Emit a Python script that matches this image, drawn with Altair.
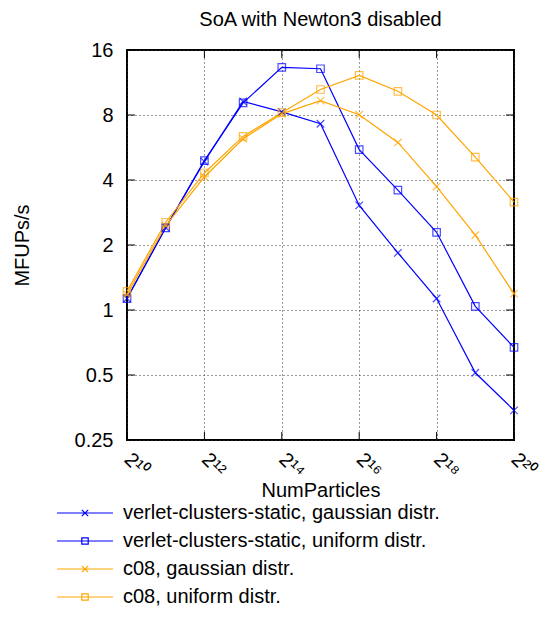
import altair as alt
import pandas as pd

FONT = "Liberation Sans"

# ---- data ----
exponents = [10, 11, 12, 13, 14, 15, 16, 17, 18, 19, 20]
series_names = [
    "verlet-clusters-static, gaussian distr.",
    "verlet-clusters-static, uniform distr.",
    "c08, gaussian distr.",
    "c08, uniform distr.",
]
verlet_gauss = [1.13, 2.41, 4.87, 9.24, 8.27, 7.29, 3.05, 1.84, 1.13, 0.512, 0.343]
verlet_unif = [1.13, 2.40, 4.92, 9.10, 13.3, 13.1, 5.53, 3.59, 2.29, 1.04, 0.671]
c08_gauss = [1.18, 2.46, 4.13, 6.21, 8.10, 9.33, 8.02, 5.97, 3.73, 2.22, 1.19]
c08_unif = [1.22, 2.55, 4.31, 6.37, 8.20, 10.5, 12.2, 10.3, 8.00, 5.11, 3.16]
series_values = [verlet_gauss, verlet_unif, c08_gauss, c08_unif]
series_colors = ["#0000ff", "#0000ff", "#ffa500", "#ffa500"]

x_tick_exps = [10, 12, 14, 16, 18, 20]
x_tick_labels = ["2¹⁰", "2¹²", "2¹⁴", "2¹⁶", "2¹⁸", "2²⁰"]
y_ticks = [0.25, 0.5, 1, 2, 4, 8, 16]

# ---- marker shapes ----
CROSS = "M-1,-1L1,1M-1,1L1,-1"
SQUARE = "M-1,-1H1V1H-1Z"
LEG_CROSS = "M-7,0H7M-0.8,-0.8L0.8,0.8M-0.8,0.8L0.8,-0.8"
LEG_SQUARE = "M-7,0H7M-0.8,-0.8H0.8V0.8H-0.8Z"
marker_paths = [CROSS, SQUARE, CROSS, SQUARE]
legend_paths = [LEG_CROSS, LEG_SQUARE, LEG_CROSS, LEG_SQUARE]

rows = []
for name, vals in zip(series_names, series_values):
    for e, v in zip(exponents, vals):
        rows.append({"series": name, "n": 2 ** e, "value": v})
df = pd.DataFrame(rows)

x_tick_vals = [2 ** e for e in x_tick_exps]
label_expr = "''"
for v, lab in reversed(list(zip(x_tick_vals, x_tick_labels))):
    label_expr = f"datum.value == {v} ? '{lab}' : ({label_expr})"

W, H = 387, 390

x_enc = alt.X(
    "n:Q",
    scale=alt.Scale(type="log", base=2, domain=[2 ** 10, 2 ** 20], nice=False),
    axis=alt.Axis(
        values=x_tick_vals, labelExpr=label_expr, labelAngle=45,
        labelAlign="left", labelBaseline="middle", labelPadding=16,
        labelFontSize=20, labelFont=FONT, labelColor="black",
        labelFlush=False, labelOverlap=False,
        ticks=False, domain=False,
        grid=True, gridColor="#333333", gridDash=[1, 3], gridWidth=1,
        title="NumParticles", titleFont=FONT, titleFontSize=20,
        titleFontWeight="normal", titleColor="black",
        titleY=50, titleBaseline="middle",
    ),
)
y_enc = alt.Y(
    "value:Q",
    scale=alt.Scale(type="log", base=2, domain=[0.25, 16], nice=False),
    axis=alt.Axis(
        values=y_ticks, format="~g", labelPadding=14,
        labelFontSize=20, labelFont=FONT, labelColor="black",
        labelFlush=False, labelOverlap=False,
        ticks=False, domain=False,
        grid=True, gridColor="#333333", gridDash=[1, 3], gridWidth=1,
        title="MFUPs/s", titleFont=FONT, titleFontSize=20,
        titleFontWeight="normal", titleColor="black",
        titleX=-105, titleBaseline="middle",
    ),
)

color_scale = alt.Scale(domain=series_names, range=series_colors)

lines = alt.Chart(df).mark_line(strokeWidth=1.2).encode(
    x=x_enc, y=y_enc,
    color=alt.Color("series:N", scale=color_scale, legend=None),
    detail="series:N",
)

points = alt.Chart(df).mark_point(filled=False, strokeWidth=1.2, size=56).encode(
    x=x_enc, y=y_enc,
    color=alt.Color("series:N", scale=color_scale, legend=None),
    shape=alt.Shape("series:N", scale=alt.Scale(domain=series_names, range=marker_paths), legend=None),
)

xt_df = pd.DataFrame({"n": x_tick_vals})
yt_df = pd.DataFrame({"value": y_ticks})
xt_bottom = alt.Chart(xt_df).mark_rule(color="black", strokeWidth=1).encode(
    x=x_enc, y=alt.value(H), y2=alt.value(H - 8))
xt_top = alt.Chart(xt_df).mark_rule(color="black", strokeWidth=1).encode(
    x=x_enc, y=alt.value(0), y2=alt.value(8))
yt_left = alt.Chart(yt_df).mark_rule(color="black", strokeWidth=1).encode(
    y=y_enc, x=alt.value(0), x2=alt.value(8))
yt_right = alt.Chart(yt_df).mark_rule(color="black", strokeWidth=1).encode(
    y=y_enc, x=alt.value(W), x2=alt.value(W - 8))

leg = alt.Legend(
    title=None, orient="none", legendX=-52, legendY=453,
    labelFont=FONT, labelFontSize=20, labelColor="black", labelLimit=600,
    labelOffset=28, symbolSize=64, symbolStrokeWidth=1.2, symbolOpacity=1,
    rowPadding=8, padding=0,
)
legend_layer = alt.Chart(df).mark_point(filled=False, opacity=0, size=64).encode(
    x=x_enc, y=y_enc,
    color=alt.Color("series:N", scale=alt.Scale(domain=series_names, range=series_colors), legend=leg),
    shape=alt.Shape("series:N", scale=alt.Scale(domain=series_names, range=legend_paths), legend=leg),
)

chart = alt.layer(
    lines, points, xt_bottom, xt_top, yt_left, yt_right, legend_layer
).resolve_scale(
    color="independent", shape="independent"
).properties(
    width=W, height=H,
    autosize=alt.AutoSizeParams(type="none"),
    padding={"left": 119, "top": 42, "right": 27, "bottom": 170},
    title=alt.TitleParams(
        "SoA with Newton3 disabled", font=FONT, fontSize=20,
        fontWeight="normal", color="black", anchor="middle", offset=10,
    ),
    background="white",
).configure_view(stroke="black", strokeWidth=2)

chart.save("out.html", embed_options={"renderer": "svg", "actions": False})
